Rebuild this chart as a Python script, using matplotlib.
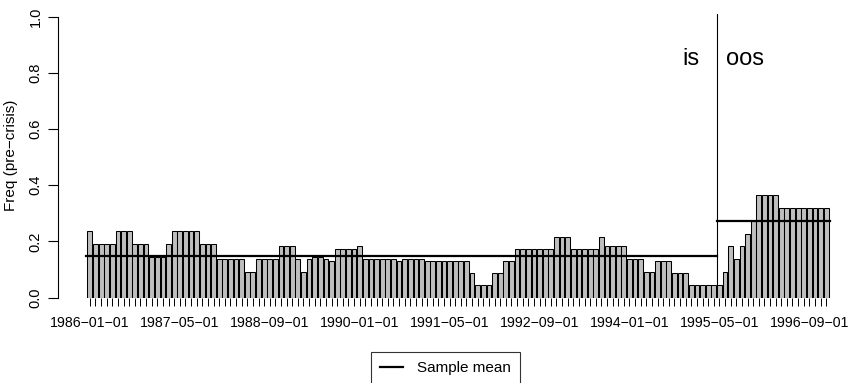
import matplotlib
matplotlib.use("Agg")
import matplotlib.pyplot as plt
import numpy as np

plt.rcParams['font.family'] = ['Liberation Sans', 'DejaVu Sans']

# monthly frequencies, 1986-01 .. 1996-12
f1986 = [0.238, 0.190, 0.190, 0.190, 0.190, 0.238, 0.238, 0.238, 0.190, 0.190, 0.190, 0.143]
f1987 = [0.143, 0.143, 0.190, 0.238, 0.238, 0.238, 0.238, 0.238, 0.190, 0.190, 0.190, 0.136]
f1988 = [0.136, 0.136, 0.136, 0.136, 0.091, 0.091, 0.136, 0.136, 0.136, 0.136, 0.182, 0.182]
f1989 = [0.182, 0.136, 0.091, 0.136, 0.143, 0.143, 0.136, 0.130, 0.174, 0.174, 0.174, 0.174]
f1990 = [0.182, 0.136, 0.136, 0.136, 0.136, 0.136, 0.136, 0.130, 0.136, 0.136, 0.136, 0.136]
f1991 = [0.130, 0.130, 0.130, 0.130, 0.130, 0.130, 0.130, 0.130, 0.087, 0.043, 0.043, 0.043]
f1992 = [0.087, 0.087, 0.130, 0.130, 0.174, 0.174, 0.174, 0.174, 0.174, 0.174, 0.174, 0.217]
f1993 = [0.217, 0.217, 0.174, 0.174, 0.174, 0.174, 0.174, 0.217, 0.182, 0.182, 0.182, 0.182]
f1994 = [0.136, 0.136, 0.136, 0.091, 0.091, 0.130, 0.130, 0.130, 0.087, 0.087, 0.087, 0.045]
f1995 = [0.045, 0.045, 0.045, 0.045, 0.045, 0.091, 0.182, 0.136, 0.182, 0.227, 0.273, 0.364]
f1996 = [0.364, 0.364, 0.364, 0.318, 0.318, 0.318, 0.318, 0.318, 0.318, 0.318, 0.318, 0.318]

freq = np.array(f1986 + f1987 + f1988 + f1989 + f1990 + f1991 +
                f1992 + f1993 + f1994 + f1995 + f1996)

tick_labels = ['1986-01-01', '1987-05-01', '1988-09-01', '1990-01-01', '1991-05-01',
               '1992-09-01', '1994-01-01', '1995-05-01', '1996-09-01']
tick_every = 16
oos_start = 112  # 1995-05-01

n = len(freq)
x = np.arange(n)

fig = plt.figure(figsize=(8.53, 3.83), dpi=100)
ax = fig.add_axes([58/853, (383-297.5)/383, 795/853, (297.5-14)/383])

ax.axvline(oos_start - 0.5, color='black', lw=0.8, zorder=1)
ax.bar(x, freq, width=0.85, color='#bebebe', edgecolor='black', linewidth=0.75, zorder=2)

m_is = freq[:oos_start].mean()
m_oos = freq[oos_start:].mean()
ax.plot([-0.6, oos_start - 0.5], [m_is, m_is], color='black', lw=1.6, zorder=3, label='Sample mean')
ax.plot([oos_start - 0.5, n - 0.4], [m_oos, m_oos], color='black', lw=1.6, zorder=3)

ax.text(oos_start - 5.0, 0.85, 'is', fontsize=17, ha='center', va='center')
ax.text(oos_start + 4.6, 0.85, 'oos', fontsize=17, ha='center', va='center')

# R draws the hyphens as minus signs
ax.set_xlim(-5.67, -5.67 + 795/5.621)
ax.set_ylim(0, 1.01)
ax.set_xticks(x[::tick_every])
ax.set_xticklabels([t.replace('-', '\u2212') for t in tick_labels], fontsize=10.2)
ax.set_xticks(x, minor=True)
ax.tick_params(axis='x', which='both', length=6, width=0.7, pad=7)
ax.set_yticks([0, 0.2, 0.4, 0.6, 0.8, 1.0])
ax.set_yticklabels(['0.0', '0.2', '0.4', '0.6', '0.8', '1.0'], rotation=90, va='center', fontsize=10.5)
ax.tick_params(axis='y', length=7, width=0.8, pad=4)
ax.set_ylabel('Freq (pre\u2212crisis)', fontsize=11, labelpad=8)

for s in ['top', 'right', 'bottom']:
    ax.spines[s].set_visible(False)
ax.spines['left'].set_bounds(0, 1)
ax.spines['left'].set_linewidth(0.8)

leg = fig.legend(loc='upper left', bbox_to_anchor=(371/853, 1 - 352/383), fontsize=11,
                 frameon=True, fancybox=False, edgecolor='black', handlelength=1.5,
                 handletextpad=0.9, borderpad=0.6, borderaxespad=0)
leg.get_frame().set_linewidth(0.8)

fig.savefig('out.png', dpi=100)
